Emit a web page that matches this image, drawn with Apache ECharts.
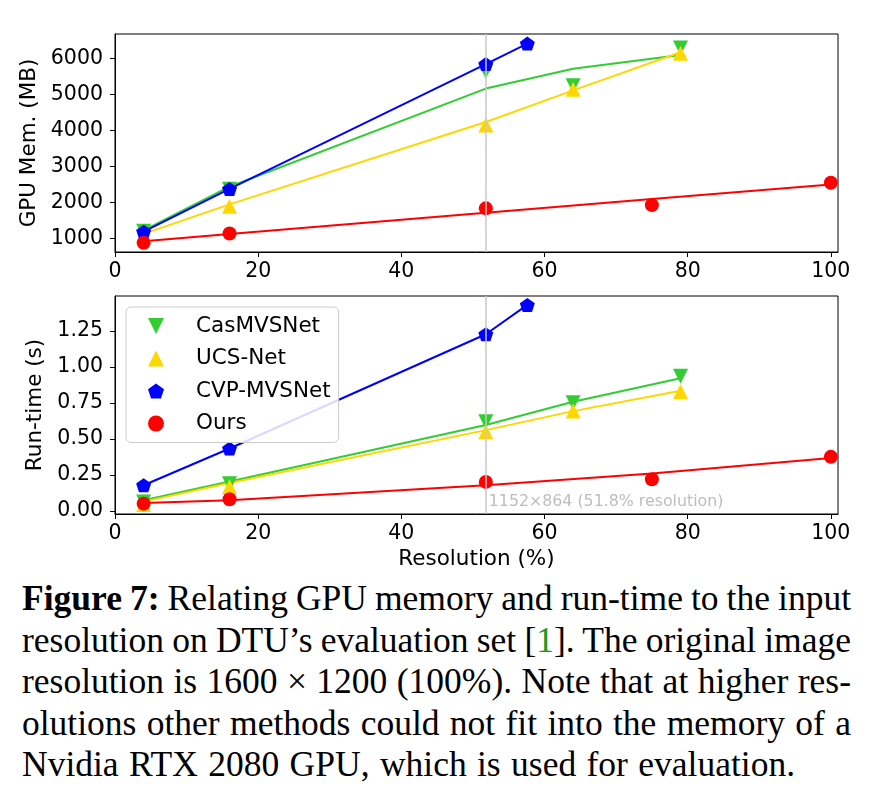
<!DOCTYPE html>
<html>
<head>
<meta charset="utf-8">
<script src="https://cdn.jsdelivr.net/npm/echarts@6/dist/echarts.min.js"></script>
<style>
  html, body { margin: 0; padding: 0; background: #fff; }
  #wrap { position: relative; width: 882px; height: 790px; overflow: hidden; }
  #chart { position: absolute; left: 0; top: 0; width: 882px; height: 575px; }
  #caption { position: absolute; left: 22px; top: 578px; width: 829px;
    font-family: "Liberation Serif", "DejaVu Serif", serif; font-size: 35.5px; color: #000; }
  #caption .ln { height: 41.5px; line-height: 41.5px; white-space: nowrap; text-align: justify; text-align-last: justify; word-spacing: -3px; }
  #caption .ln.last { text-align-last: left; word-spacing: 1.5px; }
  #caption .cite { color: #1a9a1a; }
</style>
</head>
<body>
<div id="wrap">
  <div id="chart"></div>
  <div id="caption">
    <div class="ln"><b>Figure 7:</b> Relating GPU memory and run-time to the input</div>
    <div class="ln">resolution on DTU’s evaluation set [<span class="cite">1</span>]. The original image</div>
    <div class="ln">resolution is 1600 × 1200 (100%). Note that at higher res-</div>
    <div class="ln">olutions other methods could not fit into the memory of a</div>
    <div class="ln last">Nvidia RTX 2080 GPU, which is used for evaluation.</div>
  </div>
</div>
<script>
// ---- data ----
const methods = ['CasMVSNet', 'UCS-Net', 'CVP-MVSNet', 'Ours'];
const xCas = [4, 16, 51.8, 64, 79];
const xUcs = [4, 16, 51.8, 64, 79];
const xCvp = [4, 16, 51.8, 57.6];
const xOurs = [4, 16, 51.8, 75, 100];

const casMem = [1200, 2370, 5650, 5250, 6300];
const casMemFit = [1230, 2440, 5170, 5720, 6100];
const ucsMem = [1100, 1900, 4160, 5150, 6150];
const ucsMemFit = [1130, 1950, 4240, 5120, 6180];
const cvpMem = [1190, 2380, 5850, 6420];
const oursMem = [880, 1140, 1840, 1930, 2550];
const oursMemFit = [925, 1125, 1715, 2100, 2505];

const casTime = [0.063, 0.19, 0.62, 0.752, 0.936];
const casTimeFit = [0.075, 0.205, 0.597, 0.759, 0.922];
const ucsTime = [0.045, 0.17, 0.55, 0.694, 0.831];
const ucsTimeFit = [0.065, 0.195, 0.562, 0.694, 0.836];
const cvpTime = [0.179, 0.434, 1.228, 1.432];
const oursTime = [0.051, 0.081, 0.202, 0.221, 0.376];
const oursTimeFit = [0.056, 0.075, 0.179, 0.26, 0.369];

const xTicks = [0, 20, 40, 60, 80, 100];
const memTicks = [1000, 2000, 3000, 4000, 5000, 6000];
const timeTicks = [0, 0.25, 0.5, 0.75, 1.0, 1.25];
const refX = [51.8];
const refLabel = ['1152×864 (51.8% resolution)'];
const refLabelY = [0.06];

// ---- style ----
const colors = { 'CasMVSNet': '#32cd32', 'UCS-Net': '#ffd700', 'CVP-MVSNet': '#0000ff', 'Ours': '#ff0000' };
const symbols = {
  'CasMVSNet': 'path://M-1,-1L1,-1L0,1Z',
  'UCS-Net': 'path://M0,-1L1,1L-1,1Z',
  'CVP-MVSNet': 'path://M0,-1L0.951,-0.309L0.588,0.809L-0.588,0.809L-0.951,-0.309Z',
  'Ours': 'circle'
};
const sizes = { 'CasMVSNet': 15, 'UCS-Net': 15, 'CVP-MVSNet': [15, 14], 'Ours': 14 };

const zip = (xs, ys) => xs.map((x, i) => [x, ys[i]]);
const FONT = 'DejaVu Sans';

const panels = [
  { xs: [xCas, xUcs, xCvp, xOurs], pts: [casMem, ucsMem, cvpMem, oursMem], fits: [casMemFit, ucsMemFit, cvpMem, oursMemFit] },
  { xs: [xCas, xUcs, xCvp, xOurs], pts: [casTime, ucsTime, cvpTime, oursTime], fits: [casTimeFit, ucsTimeFit, cvpTime, oursTimeFit] }
];

const series = [];
panels.forEach((p, gi) => {
  series.push({
    type: 'line', name: 'ref' + gi, xAxisIndex: gi, yAxisIndex: gi, data: [], silent: true,
    markLine: { silent: true, symbol: 'none', label: { show: false },
      lineStyle: { color: '#c8c8c8', width: 1.5, type: 'solid' },
      data: [{ xAxis: refX[0] }] }
  });
  methods.forEach((m, i) => {
    series.push({
      type: 'line', name: m + ' fit', xAxisIndex: gi, yAxisIndex: gi,
      data: zip(p.xs[i], p.fits[i]), symbol: 'none', showSymbol: false,
      lineStyle: { color: colors[m], width: 2 }, z: 2
    });
  });
  methods.forEach((m, i) => {
    series.push({
      type: 'scatter', name: m, xAxisIndex: gi, yAxisIndex: gi,
      data: zip(p.xs[i], p.pts[i]), symbol: symbols[m], symbolSize: sizes[m],
      itemStyle: { color: colors[m], opacity: 1 }, z: 3
    });
  });
});
series.push({
  type: 'scatter', name: 'annot', xAxisIndex: 1, yAxisIndex: 1, silent: true,
  data: [[refX[0], refLabelY[0]]], symbolSize: 0,
  label: { show: true, position: 'right', distance: 3, formatter: refLabel[0],
    fontFamily: FONT, fontSize: 15.8, color: '#adadad' }
});

function xAxis(gi, showName) {
  return {
    type: 'value', gridIndex: gi, min: 0, max: 101,
    axisLine: { show: true, onZero: false, lineStyle: { color: '#000', width: 1 } },
    axisTick: { show: true, length: 5, customValues: xTicks, lineStyle: { color: '#000' } },
    axisLabel: { customValues: xTicks, margin: 9, fontFamily: FONT, fontSize: 20.5, color: '#000' },
    splitLine: { show: false },
    name: showName ? 'Resolution (%)' : '', nameLocation: 'middle', nameGap: 34,
    nameTextStyle: { fontFamily: FONT, fontSize: 21.5, color: '#000' }
  };
}
function yAxis(gi, name, min, max, ticks, fmt, gap) {
  return {
    type: 'value', gridIndex: gi, min: min, max: max,
    axisLine: { show: true, onZero: false, lineStyle: { color: '#000', width: 1 } },
    axisTick: { show: true, length: 5, customValues: ticks, lineStyle: { color: '#000' } },
    axisLabel: { customValues: ticks, margin: 12, fontFamily: FONT, fontSize: 20.5, color: '#000', formatter: fmt },
    splitLine: { show: false },
    name: name, nameLocation: 'middle', nameRotate: 90, nameGap: gap,
    nameTextStyle: { fontFamily: FONT, fontSize: 21.5, color: '#000' }
  };
}

const chart = echarts.init(document.getElementById('chart'), null, { renderer: 'canvas' });
chart.setOption({
  animation: false,
  backgroundColor: '#fff',
  grid: [
    { left: 115, top: 34, width: 723, height: 218, show: true, borderColor: '#000', borderWidth: 1, backgroundColor: 'transparent' },
    { left: 115, top: 296, width: 723, height: 218, show: true, borderColor: '#000', borderWidth: 1, backgroundColor: 'transparent' }
  ],
  xAxis: [xAxis(0, false), xAxis(1, true)],
  yAxis: [
    yAxis(0, 'GPU Mem. (MB)', 626, 6687, memTicks, v => String(v), 68),
    yAxis(1, 'Run-time (s)', -0.021, 1.494, timeTicks, v => v.toFixed(2), 62)
  ],
  legend: {
    data: methods, orient: 'vertical', left: 126, top: 307,
    padding: [8, 8, 8, 22], itemGap: 10.5, itemWidth: 16, itemHeight: 16,
    textStyle: { fontFamily: FONT, fontSize: 21.5, color: '#000', padding: [0, 0, 0, 27], lineHeight: 21 },
    borderColor: '#cccccc', borderWidth: 1, borderRadius: 5, backgroundColor: 'rgba(255,255,255,0.85)',
    selectedMode: false
  },
  series: series
});
</script>
</body>
</html>
